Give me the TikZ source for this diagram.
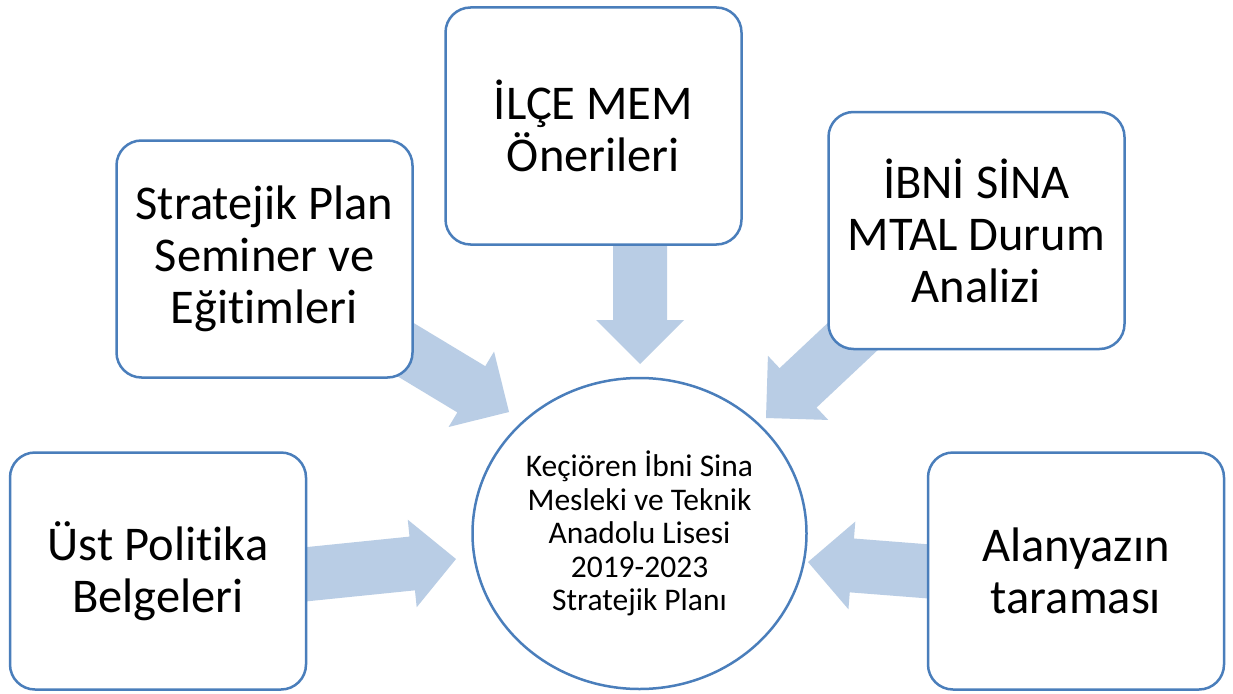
\documentclass[tikz,border=0pt]{standalone}
\usepackage{fontspec}
\setmainfont{Carlito}[Ligatures=NoCommon]
\usetikzlibrary{calc,shapes.geometric}
\definecolor{boxline}{RGB}{74,126,187}
\definecolor{arrowfill}{RGB}{185,205,229}
\tikzset{
  srcbox/.style={draw=boxline, line width=2.5pt, fill=white, rounded corners=25pt,
    minimum width=296pt, minimum height=237pt, align=center, inner sep=0pt,
    font=\fontsize{48.5}{52}\selectfont},
  hub/.style={draw=boxline, line width=2.5pt, fill=white, ellipse, minimum width=334pt,
    minimum height=311pt, align=center, inner sep=0pt, font=\fontsize{31.5}{33.5}\selectfont},
  blockfill/.style={fill=arrowfill}
}
\newcommand\blockarrow[3]{%
  \coordinate (H#3) at ($(#2)!44pt!(#1)$);
  \fill[blockfill] ($(#1)!27pt!90:(#2)$) -- ($(H#3)!27pt!90:(#2)$) -- ($(H#3)!44pt!90:(#2)$)
    -- (#2) -- ($(H#3)!44pt!-90:(#2)$) -- ($(H#3)!27pt!-90:(#2)$) -- ($(#1)!27pt!-90:(#2)$) -- cycle;}
\begin{document}
\begin{tikzpicture}[x=1pt,y=-1pt]
\useasboundingbox (0,0) rectangle (1233,693);
\fill[white] (0,0) rectangle (1233,693);
% tails (hidden inside the boxes) and tips
\coordinate (tailBL) at (250,580);
\coordinate (tipBL) at (456,559);
\coordinate (tailBR) at (1000,577);
\coordinate (tipBR) at (808,562);
\coordinate (tailT) at (640,200);
\coordinate (tipT) at (640,364);
\coordinate (tailL) at (295,283);
\coordinate (tipL) at (509,412);
\coordinate (tailR) at (948,247);
\coordinate (tipR) at (766,418);
\blockarrow{tailBL}{tipBL}{a}
\blockarrow{tailBR}{tipBR}{b}
\blockarrow{tailT}{tipT}{c}
\blockarrow{tailL}{tipL}{d}
\blockarrow{tailR}{tipR}{e}
% boxes
\node[srcbox] (mem) at (593.5,126) {İLÇE MEM\\Önerileri};
\node[srcbox] (sem) at (264.5,259) {Stratejik Plan\\Seminer ve\\Eğitimleri};
\node[srcbox] (dur) at (976.5,230.5) {İBNİ SİNA\\MTAL Durum\\Analizi};
\node[srcbox] (ust) at (158,571) {Üst Politika\\Belgeleri};
\node[srcbox] (ala) at (1076,571) {Alanyazın\\taraması};
\node[hub] (plan) at (639.5,533.5) {Keçiören İbni Sina\\Mesleki ve Teknik\\Anadolu Lisesi\\2019-2023\\Stratejik Planı};
\end{tikzpicture}
\end{document}
